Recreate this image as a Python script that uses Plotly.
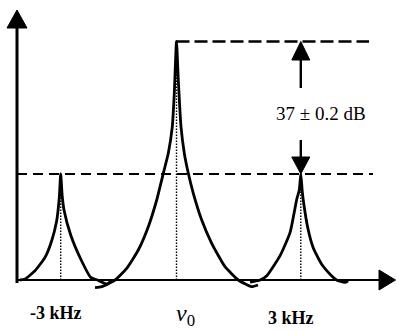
import plotly.graph_objects as go

# ---- data (x: offset from nu0, arbitrary units; y: level above baseline) ----
peak_names = ["-3 kHz", "nu0", "3 kHz"]
peak_centers = [-115.8, 0.0, 124.3]
peak_tops = [106.0, 238.5, 106.0]

left_peak_dx = [-40.7, -35.7, -25.7, -15.7, -9.0, -4.0, -1.4, 0.0, 1.5, 3.3, 10.0, 20.0, 30.0, 36.6, 46.6, 51.0]
left_peak_h = [0.0, 1.0, 9.3, 22.6, 39.3, 59.3, 82.6, 106.0, 84.0, 70.0, 45.0, 21.0, 2.6, 0.0, -4.0, 0.0]

center_peak_dx = [-81.5, -74.8, -61.5, -49.8, -38.2, -28.2, -19.8, -13.2, -8.2, -4.2, -2.2, 0.0,
                  1.8, 4.5, 7.8, 11.8, 16.8, 25.2, 35.2, 48.5, 61.8, 75.0, 81.5]
center_peak_h = [-7.7, -6.7, 0.0, 11.7, 30.0, 53.3, 80.0, 106.7, 126.7, 153.3, 186.7, 238.5,
                 200.0, 153.3, 126.7, 106.7, 86.7, 60.0, 36.7, 13.3, 0.0, -6.7, -5.0]

right_peak_dx = [-50.7, -40.7, -34.0, -20.7, -10.7, -4.0, -1.5, 0.0, 1.5, 3.0, 7.0, 12.3, 20.7, 30.7, 35.7, 44.0, 47.3]
right_peak_h = [-2.0, 0.0, 4.3, 24.3, 47.6, 81.0, 90.0, 106.0, 88.0, 76.0, 52.0, 32.6, 16.0, 4.3, 0.0, -2.4, -0.7]

ref_levels = [106.0, 238.5]
level_text = "37 ± 0.2 dB"

x_range = [-176.5, 219.5]
y_range = [-51.0, 280.0]

fig = go.Figure()

# dotted verticals
for c, t in zip(peak_centers, peak_tops):
    fig.add_trace(go.Scatter(x=[c, c], y=[0, t], mode="lines",
                             line=dict(color="black", width=1.4, dash="1.5px,1.5px"),
                             hoverinfo="skip"))

# dashed reference levels
fig.add_trace(go.Scatter(x=[-159.5, 196.5], y=[ref_levels[0], ref_levels[0]], mode="lines",
                         line=dict(color="black", width=2.2, dash="10px,6px"), hoverinfo="skip"))
fig.add_trace(go.Scatter(x=[peak_centers[1], 192.5], y=[ref_levels[1], ref_levels[1]], mode="lines",
                         line=dict(color="black", width=2.4, dash="13px,5px"), hoverinfo="skip"))

# peaks
for c, dx, h in [(peak_centers[0], left_peak_dx, left_peak_h),
                 (peak_centers[1], center_peak_dx, center_peak_h),
                 (peak_centers[2], right_peak_dx, right_peak_h)]:
    fig.add_trace(go.Scatter(x=[c + d for d in dx], y=h, mode="lines",
                             line=dict(color="black", width=2.8, shape="spline", smoothing=0.5),
                             hoverinfo="skip"))

shapes = []
# axes
shapes.append(dict(type="line", x0=-159.5, x1=-159.5, y0=-3, y1=254, line=dict(color="black", width=3)))
shapes.append(dict(type="line", x0=-159.5, x1=204, y0=0, y1=0, line=dict(color="black", width=2.2)))
# arrowheads (axes)
shapes.append(dict(type="path", path="M -169.5,252 L -149.5,252 L -159.5,270 Z",
                   fillcolor="black", line=dict(color="black", width=1)))
shapes.append(dict(type="path", path="M 202.5,10 L 202.5,-10 L 219,0 Z",
                   fillcolor="black", line=dict(color="black", width=1)))
# annotation arrows at +3 kHz
ax = peak_centers[2]
shapes.append(dict(type="line", x0=ax, x1=ax, y0=192, y1=221, line=dict(color="black", width=2.4)))
shapes.append(dict(type="path", path=f"M {ax-9},220 L {ax+9},220 L {ax},{ref_levels[1]} Z",
                   fillcolor="black", line=dict(color="black", width=1)))
shapes.append(dict(type="line", x0=ax, x1=ax, y0=140, y1=122, line=dict(color="black", width=2.4)))
shapes.append(dict(type="path", path=f"M {ax-9},123 L {ax+9},123 L {ax},{ref_levels[0]} Z",
                   fillcolor="black", line=dict(color="black", width=1)))

annotations = [
    dict(x=144.5, y=167, text=level_text, showarrow=False,
         font=dict(family="Liberation Serif", size=19, color="black")),
    dict(x=-121, y=-33, text="<b>" + peak_names[0] + "</b>", showarrow=False,
         font=dict(family="Liberation Serif", size=18, color="black")),
    dict(x=9, y=-35, text="<i>ν</i><sub>0</sub>", showarrow=False,
         font=dict(family="Liberation Serif", size=24, color="black")),
    dict(x=114.5, y=-38, text="<b>" + peak_names[2] + "</b>", showarrow=False,
         font=dict(family="Liberation Serif", size=18, color="black")),
]

fig.update_layout(
    width=396, height=331, margin=dict(l=0, r=0, t=0, b=0),
    paper_bgcolor="white", plot_bgcolor="white", showlegend=False,
    xaxis=dict(range=x_range, visible=False, fixedrange=True),
    yaxis=dict(range=y_range, visible=False, fixedrange=True),
    shapes=shapes, annotations=annotations,
)

fig.write_html("out.html", config={"displayModeBar": False})
